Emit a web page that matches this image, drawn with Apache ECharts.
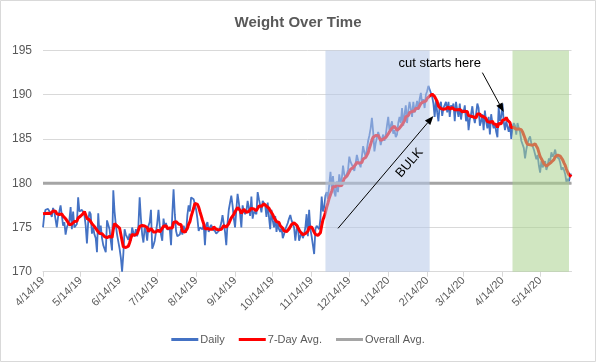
<!DOCTYPE html>
<html><head><meta charset="utf-8">
<script src="https://cdn.jsdelivr.net/npm/echarts@6/dist/echarts.min.js"></script>
<style>html,body{margin:0;padding:0;background:#fff}#c{width:596px;height:362px}</style>
</head><body><div id="c"></div>
<script>
// ---- data ----
const startDate = [2019, 4, 14]; // first daily reading (4/14/19)
const daily = [
175.0,176.4,177.0,176.9,177.1,177.0,176.6,176.2,177.2,176.8,
177.0,175.0,176.2,176.8,177.5,176.4,175.2,175.6,174.2,175.0,
175.0,175.8,177.3,174.8,176.8,175.0,174.8,175.4,178.4,176.8,
176.8,177.0,176.8,176.4,175.2,173.2,175.6,176.8,176.5,174.3,
175.0,174.2,173.8,172.2,176.6,174.2,175.2,173.8,173.0,172.8,
172.2,175.8,175.6,174.8,173.5,172.4,179.2,176.8,175.3,174.2,
174.0,172.6,171.6,170.0,172.0,174.8,174.2,174.0,173.6,174.3,
173.5,175.0,174.4,174.0,174.8,174.0,175.2,178.4,176.0,174.2,
173.3,175.0,174.6,173.5,175.2,175.6,177.0,172.6,173.0,173.5,
174.5,175.5,177.0,175.2,174.2,173.5,176.0,175.0,175.5,174.8,
175.0,174.8,173.0,176.5,179.3,176.5,174.6,174.0,173.8,174.2,
174.8,174.2,175.2,175.0,174.4,176.4,177.5,176.8,178.4,178.5,
178.2,178.3,177.0,176.0,174.6,175.0,175.2,174.8,175.3,173.0,
175.3,175.6,174.5,175.0,175.3,174.8,175.0,174.6,174.3,174.5,
174.6,175.0,175.5,176.4,176.2,174.5,173.0,175.5,177.0,177.8,
178.6,177.5,176.0,175.0,177.0,178.8,177.8,176.5,175.0,177.5,
176.8,176.5,176.8,178.0,177.2,176.3,178.5,176.0,176.8,177.0,
176.5,179.0,178.2,177.5,176.7,178.0,177.8,177.5,176.2,177.8,
176.2,174.8,177.0,175.8,175.0,176.3,174.5,175.5,174.8,174.5,
175.0,173.8,174.2,174.8,174.6,175.5,176.0,176.4,175.8,175.4,
175.0,173.5,174.8,175.2,173.5,174.0,174.5,173.8,174.2,175.0,
176.5,174.0,177.0,174.8,174.0,173.0,172.0,174.8,175.2,175.0,
174.8,176.0,178.5,176.8,177.3,178.6,179.0,178.2,179.8,181.3,
179.5,180.8,179.0,178.5,180.2,179.0,181.0,180.0,180.5,182.0,
181.0,180.6,180.5,181.5,183.0,182.4,182.5,181.8,181.4,182.2,
183.2,182.6,182.2,181.8,183.0,184.2,183.5,183.0,183.8,184.8,
185.4,186.2,187.4,185.8,183.6,184.5,184.5,185.8,185.3,184.3,
185.0,185.5,184.8,185.4,186.5,187.5,186.0,186.5,187.0,185.6,
186.0,185.2,185.5,186.8,187.5,186.8,188.5,186.5,187.8,188.8,
186.8,188.2,189.2,188.4,187.5,189.2,188.0,188.6,189.3,188.3,
189.5,190.2,189.0,189.5,188.5,190.0,190.4,191.0,190.6,190.2,
189.8,189.0,187.5,189.5,188.0,187.0,188.8,189.2,187.6,188.5,
188.6,189.2,188.0,189.2,187.5,188.8,188.5,189.0,187.0,189.2,
188.2,187.5,189.0,187.2,188.3,188.0,188.8,187.0,188.2,186.0,
187.2,187.8,188.7,187.5,186.8,187.8,189.0,188.5,186.5,187.0,
187.8,186.0,188.2,187.0,186.2,187.5,185.5,187.8,186.8,186.2,
186.8,185.8,185.2,188.6,187.0,187.5,189.0,187.0,186.0,187.0,
186.4,185.8,186.8,185.0,186.2,186.8,186.5,185.5,186.8,186.2,
185.8,184.8,185.0,184.0,182.8,183.8,184.5,185.0,185.3,184.5,
184.2,183.8,184.0,182.7,183.2,182.0,181.2,182.5,181.8,182.0,
182.5,181.5,182.0,182.8,182.5,183.5,183.0,183.3,183.8,183.0,
183.2,182.8,182.3,181.5,181.8,181.5,181.0,180.1,180.5,180.2,181.0,181.0
];
// readings from the 6 days before the first plotted day (only feed the 7-day average)
const priorWeek = [176.8,176.4,177.0,176.9,176.6,177.2];
const overallAvg = 180.0;
const tickLabels = ['4/14/19','5/14/19','6/14/19','7/14/19','8/14/19','9/14/19','10/14/19',
  '11/14/19','12/14/19','1/14/20','2/14/20','3/14/20','4/14/20','5/14/20'];
const bulkRange = ['11/25/19','2/16/20'];
const cutRange = ['4/22/20','6/6/20'];
const bulkArrow = {from:['12/5/19',174.9], to:['2/19/20',187.6]};
const bulkText = {at:['1/31/20',182.3], text:'BULK'};
const cutArrow = {from:['3/29/20',192.5], to:['4/15/20',188.05]};
const cutText = {at:['2/24/20',193.55], text:'cut starts here'};
const yMin = 170, yMax = 195, yStep = 5;

// ---- build ----
const dates = [];
{
  const d0 = new Date(startDate[0], startDate[1]-1, startDate[2]);
  for (let i = 0; i < daily.length; i++) {
    const d = new Date(d0.getFullYear(), d0.getMonth(), d0.getDate()+i);
    dates.push((d.getMonth()+1)+'/'+d.getDate()+'/'+String(d.getFullYear()).slice(2));
  }
}
const full = priorWeek.concat(daily);
const avg7 = daily.map((v,i)=>{
  const j = i + priorWeek.length;
  let s = 0; for (let k=j-6;k<=j;k++) s += full[k];
  return +(s/7).toFixed(2);
});
const overall = daily.map(()=>overallAvg);
const tickSet = new Set(tickLabels);
const tickFn = (idx, val) => tickSet.has(val);
const FONT = 'Liberation Sans';
const shadeColors = ['rgba(180,199,231,0.55)','rgba(169,209,142,0.55)'];
const shadeData = [
  [dates.indexOf(bulkRange[0]), dates.indexOf(bulkRange[1]), yMin, yMax],
  [dates.indexOf(cutRange[0]), dates.indexOf(cutRange[1]), yMin, yMax]
];

const chart = echarts.init(document.getElementById('c'), null, {renderer:'canvas'});
chart.setOption({
  animation:false,
  backgroundColor:'#fff',
  title:{text:'Weight Over Time', left:'center', top:10,
    textStyle:{fontFamily:FONT, fontSize:15, fontWeight:'bold', color:'#595959'}},
  grid:{left:43, right:24.5, top:50.5, bottom:90.3, containLabel:false},
  legend:{bottom:12, left:'center', itemGap:14, itemWidth:27, itemHeight:3,
    data:[{name:'Daily',icon:'rect'},{name:'7-Day Avg.',icon:'rect'},{name:'Overall Avg.',icon:'rect'}],
    textStyle:{fontFamily:FONT, fontSize:11, color:'#595959', padding:[0,0,0,-3]}},
  xAxis:{type:'category', data:dates, boundaryGap:false,
    axisLine:{lineStyle:{color:'#D9D9D9', width:1}},
    axisTick:{show:true, interval:tickFn, length:5, lineStyle:{color:'#D9D9D9'}},
    axisLabel:{interval:tickFn, rotate:45, fontFamily:FONT, fontSize:11, color:'#595959', margin:7},
    splitLine:{show:false}},
  yAxis:{type:'value', min:yMin, max:yMax, interval:yStep,
    axisLine:{show:false}, axisTick:{show:false},
    axisLabel:{fontFamily:FONT, fontSize:12, color:'#595959', margin:11},
    splitLine:{lineStyle:{color:'#D9D9D9', width:1}}},
  series:[
    {name:'Daily', type:'line', data:daily, showSymbol:false, z:2,
      lineStyle:{color:'#4472C4', width:1.8}, itemStyle:{color:'#4472C4'}},
    {name:'7-Day Avg.', type:'line', data:avg7, showSymbol:false, z:3,
      lineStyle:{color:'#FF0000', width:3}, itemStyle:{color:'#FF0000'}},
    {name:'Overall Avg.', type:'line', data:overall, showSymbol:false, z:4,
      lineStyle:{color:'#A5A5A5', width:3}, itemStyle:{color:'#A5A5A5'}},
    {name:'shade', type:'custom', z:10, silent:true, data:shadeData,
      encode:{x:[0,1], y:[2,3]},
      renderItem:(params, api)=>{
        const a = api.coord([api.value(0), api.value(3)]);
        const b = api.coord([api.value(1), api.value(2)]);
        return {type:'rect', shape:{x:a[0], y:a[1], width:b[0]-a[0], height:b[1]-a[1]},
          style:{fill:shadeColors[params.dataIndex]}};
      }}
  ]
});

function px(p){ return chart.convertToPixel({xAxisIndex:0, yAxisIndex:0}, p); }
function arrow(a){
  const p0 = px(a.from), p1 = px(a.to);
  const dx = p1[0]-p0[0], dy = p1[1]-p0[1], L = Math.hypot(dx,dy);
  const ux = dx/L, uy = dy/L, hl = 9, hw = 3.5;
  const b = [p1[0]-ux*hl, p1[1]-uy*hl];
  return [
    {type:'line', z:100, shape:{x1:p0[0],y1:p0[1],x2:b[0],y2:b[1]}, style:{stroke:'#000', lineWidth:1}},
    {type:'polygon', z:100, shape:{points:[p1,[b[0]-uy*hw,b[1]+ux*hw],[b[0]+uy*hw,b[1]-ux*hw]]}, style:{fill:'#000'}}
  ];
}
const pb = px(bulkText.at), pc = px(cutText.at);
chart.setOption({graphic:[
  {type:'rect', z:100, shape:{x:0.5,y:0.5,width:595,height:361}, style:{fill:null, stroke:'#D9D9D9', lineWidth:1}},
  ...arrow(bulkArrow), ...arrow(cutArrow),
  {type:'text', z:100, x:pb[0], y:pb[1], rotation:49*Math.PI/180,
    style:{text:bulkText.text, fontFamily:FONT, fontSize:13, fill:'#000', align:'center', verticalAlign:'middle'}},
  {type:'text', z:100, x:pc[0], y:pc[1],
    style:{text:cutText.text, fontFamily:FONT, fontSize:13, fill:'#000', align:'center', verticalAlign:'middle'}}
]});
</script></body></html>
